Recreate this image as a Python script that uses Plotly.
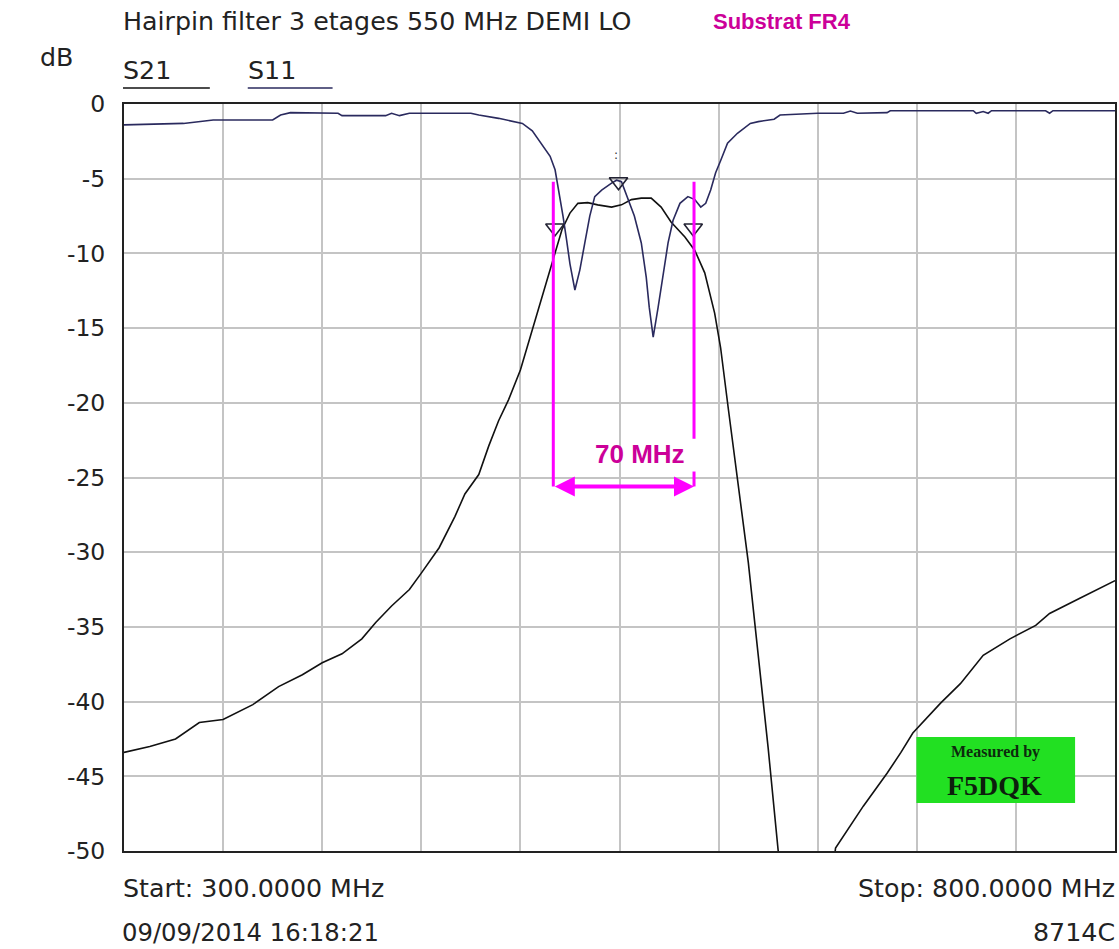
import plotly.graph_objects as go

# ---------------- data ----------------
s21_freq = [300, 313, 326, 338, 350, 365, 378, 390, 400, 410, 420, 427, 435, 444, 450,
            459, 467, 472, 479, 484, 489, 494, 500, 506, 511, 516.5, 521, 525, 529, 534,
            539, 546, 551, 556, 561, 566, 571, 576, 583, 588, 593, 598, 601, 605, 610,
            615, 620, 625, 630, 631,
            None,
            658, 659, 673, 685, 692, 698, 712, 722, 733.5, 747, 760, 767, 782, 800]
s21_db = [-43.4, -43.0, -42.5, -41.4, -41.2, -40.2, -39.0, -38.2, -37.4, -36.8, -35.8, -34.7,
          -33.6, -32.5, -31.4, -29.7, -27.6, -26.1, -24.8, -22.9, -21.2, -19.8, -17.8, -15.1,
          -12.9, -10.4, -8.4, -7.3, -6.65, -6.6, -6.75, -6.9, -6.75, -6.4, -6.3, -6.3, -6.9,
          -7.9, -8.9, -9.8, -11.3, -14.0, -16.3, -20.5, -25.6, -30.7, -36.9, -43.1, -49.9, -51,
          None,
          -51, -49.8, -47.0, -44.8, -43.4, -42.1, -40.1, -38.8, -36.9, -35.8, -34.9, -34.1,
          -33.1, -31.9]

s11_freq = [300, 330, 345, 375, 379, 384, 408, 410, 432, 435, 439, 444, 475, 479, 489, 496,
            501, 506, 511, 515, 517.5, 519, 521.5, 523.3, 525, 527.5, 530, 532.5, 535, 537.5,
            541, 546, 548.5, 551, 554, 557.5, 561, 563.5, 565, 567, 569.5, 572, 574.5, 577,
            580.5, 584.5, 588, 591, 593.5, 596, 598.5, 601, 604.5, 609.5, 616, 620, 628, 631,
            640, 650, 663, 666.5, 670, 685, 686.6, 700, 728.5, 730, 733.5, 736, 737.7, 765,
            767, 768.7, 800]
s11_db = [-1.4, -1.3, -1.07, -1.07, -0.74, -0.58, -0.62, -0.78, -0.78, -0.62, -0.78, -0.62,
          -0.62, -0.74, -0.96, -1.18, -1.3, -1.8, -2.7, -3.5, -4.4, -5.5, -7.5, -9.1, -10.7,
          -12.45, -11.1, -9.3, -7.5, -6.2, -5.76, -5.3, -5.1, -5.2, -6.2, -7.5, -9.3, -11.6,
          -13.6, -15.6, -13.6, -11.6, -9.3, -7.8, -6.65, -6.2, -6.4, -6.9, -6.65, -5.76, -4.6,
          -3.8, -2.63, -1.96, -1.3, -1.18, -1.02, -0.74, -0.67, -0.62, -0.62, -0.47, -0.62,
          -0.58, -0.45, -0.45, -0.45, -0.62, -0.5, -0.62, -0.45, -0.45, -0.62, -0.45, -0.45]

marker_freq = [517.4, 549.5, 587.2]
marker_db = [-8.3, -5.2, -8.3]

bw_freq = [516.6, 587.6]          # -> "70 MHz"
bw_top_db = -5.2
bw_arrow_db = -25.6
bw_gap_db = [-22.4, -24.6]

y_tickvals = [0, -5, -10, -15, -20, -25, -30, -35, -40, -45, -50]
y_ticktext = ["0", "-5", "-10", "-15", "-20", "-25", "-30", "-35", "-40", "-45", "-50"]

# ---------------- layout helpers (pixel -> paper) ----------------
L, R, T, B = 124, 1117, 104, 851
def px_x(p):
    return (p - L) / (R - L)
def px_y(p):
    return (B - p) / (B - T)

TXT = "DejaVu Sans"
TXTC = "#222222"
MAG = "#ff00ff"
MAGT = "#cc0099"

fig = go.Figure()
fig.add_trace(go.Scatter(x=s21_freq, y=s21_db, mode="lines", name="S21",
                         line=dict(color="#111111", width=1.6), connectgaps=False))
fig.add_trace(go.Scatter(x=s11_freq, y=s11_db, mode="lines", name="S11",
                         line=dict(color="#2a2a5e", width=1.6)))
fig.add_trace(go.Scatter(x=marker_freq, y=marker_db, mode="markers",
                         marker=dict(symbol="triangle-down-open", size=16, color="#222233",
                                     line=dict(color="#222233", width=1.6))))

fig.update_layout(
    width=1119, height=949,
    margin=dict(l=L, r=1119 - R, t=T, b=949 - B),
    paper_bgcolor="white", plot_bgcolor="white",
    showlegend=False,
    xaxis=dict(range=[300, 800], tick0=300, dtick=50, showticklabels=False,
               showgrid=True, gridcolor="#c4c4c4", gridwidth=1.5,
               showline=True, mirror=True, linecolor="#222222", linewidth=2,
               zeroline=False, ticks=""),
    yaxis=dict(range=[-50, 0], tickvals=y_tickvals, ticktext=y_ticktext,
               tickfont=dict(family=TXT, size=23.5, color=TXTC),
               ticklabelstandoff=12,
               showgrid=True, gridcolor="#c4c4c4", gridwidth=1.5,
               showline=True, mirror=True, linecolor="#222222", linewidth=2,
               zeroline=False, ticks=""),
)

def note(text, xp, yp, xanchor="left", size=25.3, color=TXTC, family=TXT, bold=False):
    fig.add_annotation(text=(f"<b>{text}</b>" if bold else text), xref="paper", yref="paper",
                       x=px_x(xp), y=px_y(yp), xanchor=xanchor, yanchor="middle",
                       showarrow=False, font=dict(family=family, size=size, color=color))

note("Hairpin filter 3 etages 550 MHz DEMI LO", 121, 22, size=25.3)
note("Substrat FR4", 712, 22, size=22, color=MAGT, family="Liberation Sans", bold=True)
note("dB", 38, 57)
note("S21", 121, 70)
note("S11", 246, 70)
note("Start: 300.0000 MHz", 121, 888)
note("Stop: 800.0000 MHz", 1119, 888, xanchor="right")
note("09/09/2014 16:18:21", 120, 932, size=24.3)
note("8714C", 1119, 932, xanchor="right")

# legend lines
fig.add_shape(type="line", xref="paper", yref="paper", x0=px_x(123), x1=px_x(210),
              y0=px_y(88), y1=px_y(88), line=dict(color="#111111", width=1.5))
fig.add_shape(type="line", xref="paper", yref="paper", x0=px_x(248), x1=px_x(333),
              y0=px_y(88), y1=px_y(88), line=dict(color="#2a2a5e", width=1.5))

# bandwidth annotation
fig.add_shape(type="line", xref="x", yref="y", x0=bw_freq[0], x1=bw_freq[0],
              y0=bw_top_db, y1=bw_arrow_db, line=dict(color=MAG, width=3))
fig.add_shape(type="line", xref="x", yref="y", x0=bw_freq[1], x1=bw_freq[1],
              y0=bw_top_db, y1=bw_gap_db[0], line=dict(color=MAG, width=3))
fig.add_shape(type="line", xref="x", yref="y", x0=bw_freq[1], x1=bw_freq[1],
              y0=bw_gap_db[1], y1=bw_arrow_db, line=dict(color=MAG, width=3))
fig.add_annotation(x=bw_freq[1], y=bw_arrow_db, ax=bw_freq[0], ay=bw_arrow_db,
                   xref="x", yref="y", axref="x", ayref="y", text="",
                   showarrow=True, arrowhead=2, startarrowhead=2, arrowside="end+start",
                   arrowsize=1, startarrowsize=1, arrowwidth=4, arrowcolor=MAG)
fig.add_annotation(x=(bw_freq[0] + bw_freq[1]) / 2 + 8, y=-23.4, xref="x", yref="y",
                   text="<b>70 MHz</b>", showarrow=False,
                   font=dict(family="Liberation Sans", size=26, color=MAGT))
fig.add_annotation(x=marker_freq[1] - 1.5, y=-3.4, xref="x", yref="y", text=":",
                   showarrow=False, font=dict(family=TXT, size=12, color="#333"))

# "Measured by" badge
fig.add_shape(type="rect", xref="paper", yref="paper", x0=px_x(918), x1=px_x(1077),
              y0=px_y(803), y1=px_y(737), fillcolor="#22e022", line=dict(width=0))
note("Measured by", 997, 752, xanchor="center", size=16, color="#0d2a0d",
     family="Liberation Serif", bold=True)
note("F5DQK", 996, 785, xanchor="center", size=28, color="#0d1f0d",
     family="Liberation Serif", bold=True)

fig.write_html("out.html", post_script="document.body.style.margin='0';",
               config={"displayModeBar": False})
